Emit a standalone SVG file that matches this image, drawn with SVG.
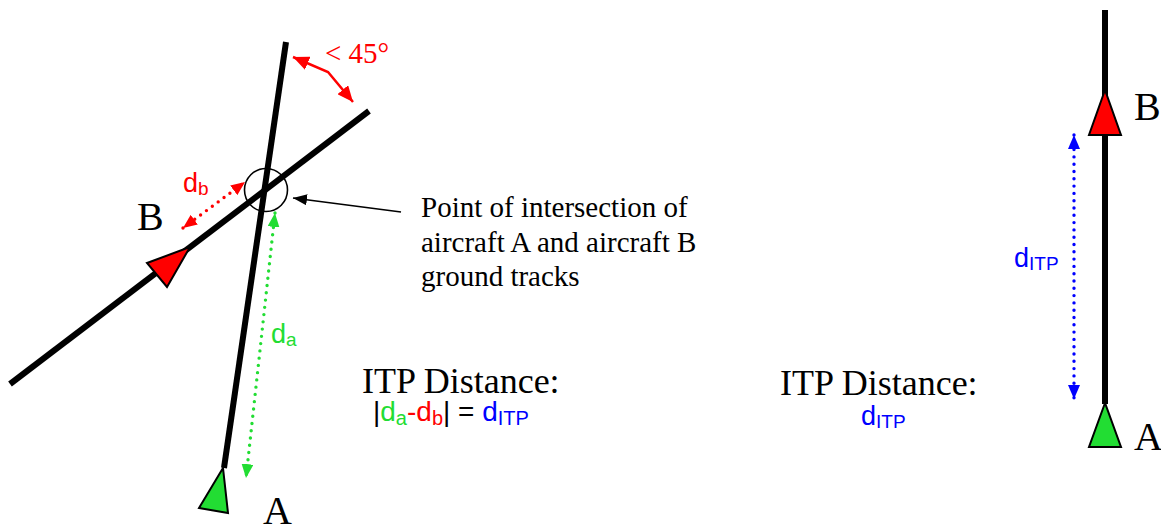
<svg xmlns="http://www.w3.org/2000/svg" width="1161" height="527" viewBox="0 0 1161 527">
<style>
.serif{font-family:"Liberation Serif","Times New Roman",serif;fill:#000}
.sans{font-family:"Liberation Sans",Arial,sans-serif}
.track{stroke:#000;stroke-width:6;fill:none;stroke-linecap:butt}
.tri{stroke:#000;stroke-width:2;stroke-linejoin:miter}
.dot{fill:none;stroke-width:3.4;stroke-dasharray:0 7.3;stroke-linecap:round}
.g{fill:#22dd33}
.r{fill:#ff0000}
.b{fill:#0000ff}
</style>
<defs>
<marker id="mg" viewBox="0 0 14 12" refX="14" refY="6" markerWidth="14" markerHeight="12" markerUnits="userSpaceOnUse" orient="auto-start-reverse"><path d="M0,0 L14,6 L0,12 z" fill="#22dd33"/></marker>
<marker id="mr" viewBox="0 0 14 12" refX="14" refY="6" markerWidth="14" markerHeight="12" markerUnits="userSpaceOnUse" orient="auto-start-reverse"><path d="M0,0 L14,6 L0,12 z" fill="#ff0000"/></marker>
<marker id="mb" viewBox="0 0 14 12" refX="14" refY="6" markerWidth="14" markerHeight="12" markerUnits="userSpaceOnUse" orient="auto-start-reverse"><path d="M0,0 L14,6 L0,12 z" fill="#0000ff"/></marker>
<marker id="mr2" viewBox="0 0 16 14" refX="16" refY="7" markerWidth="16" markerHeight="14" markerUnits="userSpaceOnUse" orient="auto-start-reverse"><path d="M0,0 L16,7 L0,14 z" fill="#ff0000"/></marker>
<marker id="mk" viewBox="0 0 14 11" refX="14" refY="5.5" markerWidth="14" markerHeight="11" markerUnits="userSpaceOnUse" orient="auto"><path d="M0,0 L14,5.5 L0,11 z" fill="#000"/></marker>
</defs>

<g id="track-b-left">
<line class="track" x1="10" y1="384" x2="369" y2="111"/>
<polygon class="tri" points="190,247 147,263 167,287" fill="#ff0000"/>
<text class="serif" x="137" y="230" font-size="40">B</text>
</g>

<g id="track-a-left">
<line class="track" x1="286" y1="42" x2="224" y2="468"/>
<polygon class="tri" points="223,468 199,508 228,513" fill="#22dd33"/>
<text class="serif" x="263" y="524" font-size="40">A</text>
</g>

<g id="intersection">
<circle cx="266" cy="190" r="21.5" fill="none" stroke="#000" stroke-width="1.6"/>
</g>

<g id="intersection-label">
<text class="serif" font-size="29"><tspan x="421" y="217">Point of intersection of</tspan><tspan x="421" y="252">aircraft A and aircraft B</tspan><tspan x="421" y="286">ground tracks</tspan></text>
</g>

<g id="angle-label">
<text class="serif" x="325" y="63" font-size="29" style="fill:#ff0000">&lt; 45°</text>
</g>

<g id="db-label">
<text class="sans r" x="183" y="192" font-size="27">d<tspan font-size="19" dy="3">b</tspan></text>
</g>

<g id="da-label">
<text class="sans g" x="271" y="343" font-size="27">d<tspan font-size="19" dy="3">a</tspan></text>
</g>

<g id="itp-left">
<text class="serif" x="362" y="393" font-size="36">ITP Distance:</text>
<text class="sans" x="373" y="421" font-size="28"><tspan fill="#000">|</tspan><tspan class="g">d</tspan><tspan class="g" font-size="20" dy="4">a</tspan><tspan class="r" dy="-4">-d</tspan><tspan class="r" font-size="20" dy="4">b</tspan><tspan fill="#000" dy="-4">| = </tspan><tspan class="b">d</tspan><tspan class="b" font-size="20" dy="4">ITP</tspan></text>
</g>

<g id="track-right">
<line class="track" x1="1105" y1="10" x2="1105" y2="404"/>
<polygon class="tri" points="1105,90 1089,135 1121,135" fill="#ff0000"/>
<polygon class="tri" points="1105,403 1089,447 1121,447" fill="#22dd33"/>
<text class="serif" x="1134" y="120" font-size="40">B</text>
<text class="serif" x="1134" y="450" font-size="40">A</text>
</g>

<g id="ditp-right-label">
<text class="sans b" x="1014" y="267" font-size="27">d<tspan font-size="19" dy="3">ITP</tspan></text>
</g>

<g id="itp-right">
<text class="serif" x="780" y="395" font-size="36">ITP Distance:</text>
<text class="sans b" x="861" y="425" font-size="27">d<tspan font-size="19" dy="3">ITP</tspan></text>
</g>

<g id="connectors">
<line class="dot" stroke="#ff0000" x1="183" y1="228" x2="245" y2="182" marker-start="url(#mr)" marker-end="url(#mr)"/>
<line class="dot" stroke="#22dd33" x1="275" y1="213" x2="246" y2="478" marker-start="url(#mg)" marker-end="url(#mg)"/>
<line class="dot" stroke="#0000ff" x1="1074" y1="135" x2="1074" y2="399" marker-start="url(#mb)" marker-end="url(#mb)"/>
<polyline points="293,57 328,72 353,102" fill="none" stroke="#ff0000" stroke-width="2.5" marker-start="url(#mr2)" marker-end="url(#mr2)"/>
<line x1="401" y1="212" x2="293" y2="198" stroke="#000" stroke-width="1.6" marker-end="url(#mk)"/>
</g>
</svg>
